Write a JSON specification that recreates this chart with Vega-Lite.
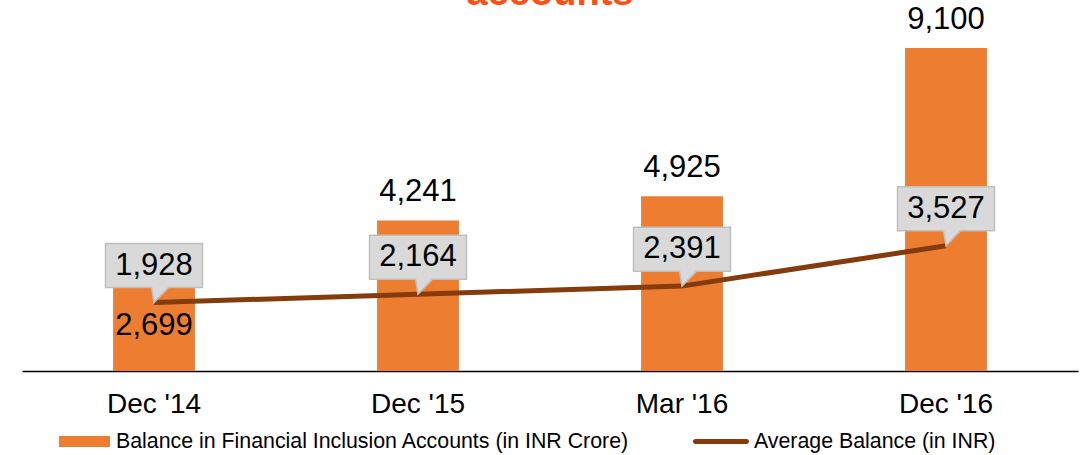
{
  "$schema": "https://vega.github.io/schema/vega-lite/v6.json",
  "autosize": {"type": "none"},
  "width": 1056,
  "height": 355,
  "padding": {"left": 22, "top": 16, "right": 14, "bottom": 84},
  "background": "white",
  "title": {
    "text": "accounts",
    "fontSize": 38,
    "fontWeight": "bold",
    "color": "#FF4E14",
    "font": "Liberation Sans",
    "anchor": "middle",
    "baseline": "alphabetic",
    "offset": 0,
    "dy": 39
  },
  "config": {
    "view": {"stroke": null},
    "font": "Liberation Sans"
  },
  "data": {
    "values": [
      {"period": "Dec '14", "balance": 2699, "avg": 1928},
      {"period": "Dec '15", "balance": 4241, "avg": 2164},
      {"period": "Mar '16", "balance": 4925, "avg": 2391},
      {"period": "Dec '16", "balance": 9100, "avg": 3527}
    ]
  },
  "encoding": {
    "x": {
      "field": "period",
      "type": "nominal",
      "sort": null,
      "scale": {"paddingInner": 0.69, "paddingOuter": 0.345},
      "axis": {
        "title": null,
        "labelAngle": 0,
        "labelFontSize": 28,
        "labelColor": "#000000",
        "labelPadding": 19,
        "ticks": false,
        "domainColor": "#000000",
        "domainWidth": 1.5,
        "grid": false
      }
    }
  },
  "layer": [
    {
      "mark": {"type": "bar", "color": "#ED7D31"},
      "encoding": {
        "y": {"field": "balance", "type": "quantitative", "scale": {"domain": [0, 10000]}, "axis": null}
      }
    },
    {
      "transform": [{"filter": "datum.period != \"Dec '14\""}],
      "mark": {"type": "text", "fontSize": 31, "baseline": "middle", "dy": -28, "color": "#000000"},
      "encoding": {
        "y": {"field": "balance", "type": "quantitative"},
        "text": {"field": "balance", "type": "quantitative", "format": ","}
      }
    },
    {
      "transform": [{"filter": "datum.period == \"Dec '14\""}],
      "mark": {"type": "text", "fontSize": 31, "baseline": "middle", "dy": 51, "color": "#000000"},
      "encoding": {
        "y": {"field": "balance", "type": "quantitative"},
        "text": {"field": "balance", "type": "quantitative", "format": ","}
      }
    },
    {
      "mark": {"type": "line", "color": "#843C0C", "strokeWidth": 5},
      "encoding": {
        "y": {"field": "avg", "type": "quantitative"}
      }
    },
    {
      "mark": {
        "type": "point",
        "shape": "M-1,-1.216H1V-0.309H0.3L0,0L-0.05,-0.309H-1Z",
        "size": 9409,
        "filled": true,
        "fill": "#D9D9D9",
        "stroke": "#BFBFBF",
        "strokeWidth": 1.5,
        "opacity": 1
      },
      "encoding": {
        "y": {"field": "avg", "type": "quantitative"}
      }
    },
    {
      "mark": {"type": "text", "fontSize": 31, "baseline": "middle", "dy": -37, "color": "#000000"},
      "encoding": {
        "y": {"field": "avg", "type": "quantitative"},
        "text": {"field": "avg", "type": "quantitative", "format": ","}
      }
    },
    {
      "transform": [{"fold": ["balance", "avg"], "as": ["series", "v"]}],
      "mark": {"type": "point", "filled": true, "opacity": 0},
      "encoding": {
        "y": {"field": "v", "type": "quantitative"},
        "color": {
          "field": "series",
          "type": "nominal",
          "scale": {"domain": ["balance", "avg"], "range": ["#ED7D31", "#843C0C"]},
          "legend": {
            "orient": "none",
            "legendX": 37,
            "legendY": 400,
            "direction": "horizontal",
            "title": null,
            "padding": 0,
            "columnPadding": 62,
            "labelFontSize": 21.33,
            "labelColor": "#000000",
            "labelLimit": 0,
            "labelOffset": 6,
            "symbolSize": 2601,
            "symbolOpacity": 1,
            "symbolStrokeWidth": 0,
            "labelExpr": "datum.label == 'balance' ? 'Balance in Financial Inclusion Accounts (in INR Crore)' : 'Average Balance (in INR)'",
            "encode": {"symbols": {"update": {"opacity": {"value": 1}, "fillOpacity": {"value": 1}}}}
          }
        },
        "shape": {
          "field": "series",
          "type": "nominal",
          "scale": {
            "domain": ["balance", "avg"],
            "range": [
              "M-1,-0.216H1V0.216H-1Z",
              "M-1.06,-0.098H0.94A0.098,0.098 0 0 1 0.94,0.098H-1.06A0.098,0.098 0 0 1 -1.06,-0.098Z"
            ]
          }
        }
      }
    }
  ]
}
